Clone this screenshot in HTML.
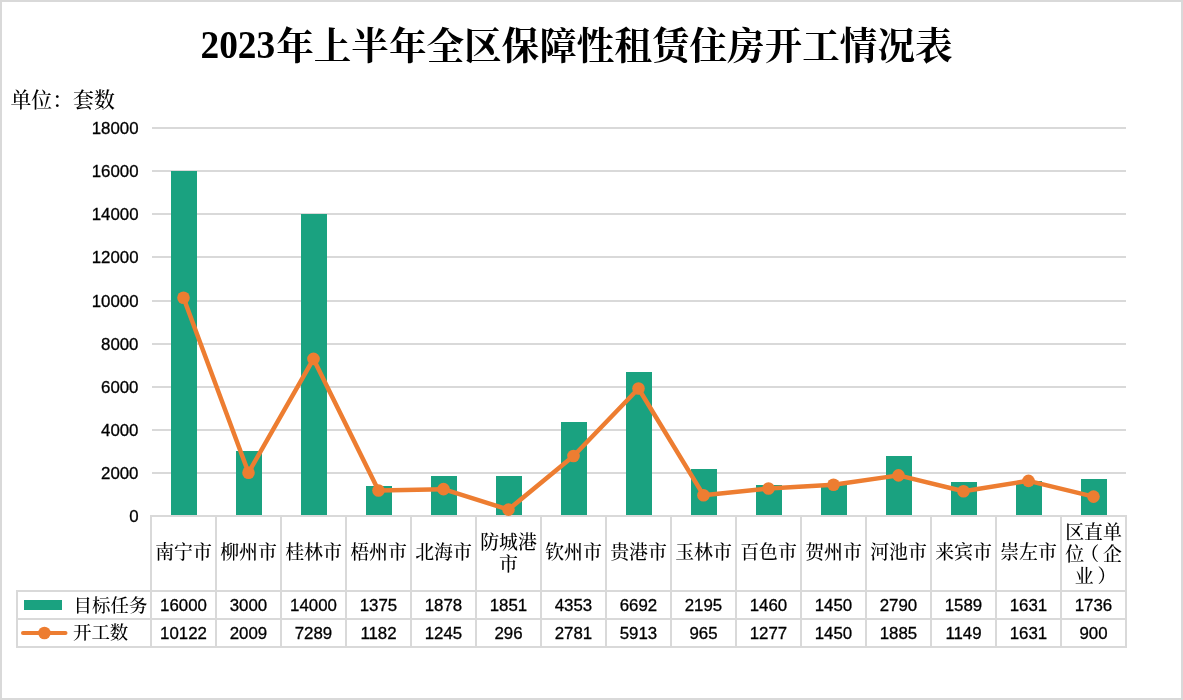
<!DOCTYPE html>
<html lang="zh-CN">
<head>
<meta charset="utf-8">
<title>2023年上半年全区保障性租赁住房开工情况表</title>
<style>
html,body{margin:0;padding:0;background:#fff;}
body{width:1183px;height:700px;overflow:hidden;position:relative;}
svg{position:absolute;left:0;top:0;display:block;}
.num{font-family:"Liberation Sans",sans-serif;font-size:16.85px;fill:#000;stroke:#000;stroke-width:0.3px;}
.cjk{font-family:"Liberation Serif","Noto Serif CJK SC",serif;font-size:18.9px;fill:#000;font-weight:500;}
.unit{font-family:"Liberation Serif","Noto Serif CJK SC",serif;font-size:20.9px;fill:#000;font-weight:500;}
.title{font-family:"Liberation Serif","Noto Serif CJK SC",serif;font-weight:700;font-size:37.6px;fill:#000;}
</style>
</head>
<body>
<svg width="1183" height="700" viewBox="0 0 1183 700">
<rect x="1" y="1" width="1181" height="698" fill="#fff" stroke="#d9d9d9" stroke-width="2"/>
<text class="title" transform="translate(200.5,57.7) scale(0.93,1)" style="font-size:40.2px">2023</text>
<text class="title" x="276.2" y="58.6">年上半年全区保障性租赁住房开工情况表</text>
<text class="unit" x="10.4" y="107.3">单位：套数</text>
<g fill="#d9d9d9">
<rect x="152" y="472" width="974" height="2"/>
<rect x="152" y="429" width="974" height="2"/>
<rect x="152" y="386" width="974" height="2"/>
<rect x="152" y="343" width="974" height="2"/>
<rect x="152" y="300" width="974" height="2"/>
<rect x="152" y="256" width="974" height="2"/>
<rect x="152" y="213" width="974" height="2"/>
<rect x="152" y="170" width="974" height="2"/>
<rect x="152" y="127" width="974" height="2"/>
</g>
<text class="num" x="138.5" y="522.10" text-anchor="end">0</text>
<text class="num" x="138.5" y="479.10" text-anchor="end">2000</text>
<text class="num" x="138.5" y="436.10" text-anchor="end">4000</text>
<text class="num" x="138.5" y="393.10" text-anchor="end">6000</text>
<text class="num" x="138.5" y="350.10" text-anchor="end">8000</text>
<text class="num" x="138.5" y="307.10" text-anchor="end">10000</text>
<text class="num" x="138.5" y="263.10" text-anchor="end">12000</text>
<text class="num" x="138.5" y="220.10" text-anchor="end">14000</text>
<text class="num" x="138.5" y="177.10" text-anchor="end">16000</text>
<text class="num" x="138.5" y="134.10" text-anchor="end">18000</text>
<rect x="171" y="171" width="26" height="344" fill="#1aa280"/>
<rect x="236" y="451" width="26" height="64" fill="#1aa280"/>
<rect x="301" y="214" width="26" height="301" fill="#1aa280"/>
<rect x="366" y="486" width="26" height="29" fill="#1aa280"/>
<rect x="431" y="476" width="26" height="39" fill="#1aa280"/>
<rect x="496" y="476" width="26" height="39" fill="#1aa280"/>
<rect x="561" y="422" width="26" height="93" fill="#1aa280"/>
<rect x="626" y="372" width="26" height="143" fill="#1aa280"/>
<rect x="691" y="469" width="26" height="46" fill="#1aa280"/>
<rect x="756" y="485" width="26" height="30" fill="#1aa280"/>
<rect x="821" y="485" width="26" height="30" fill="#1aa280"/>
<rect x="886" y="456" width="26" height="59" fill="#1aa280"/>
<rect x="951" y="482" width="26" height="33" fill="#1aa280"/>
<rect x="1016" y="481" width="26" height="34" fill="#1aa280"/>
<rect x="1081" y="479" width="26" height="36" fill="#1aa280"/>
<g fill="#d9d9d9">
<rect x="150" y="515" width="977" height="2"/>
<rect x="16" y="590" width="1111" height="2"/>
<rect x="16" y="618" width="1111" height="2"/>
<rect x="16" y="646" width="1111" height="2"/>
<rect x="16" y="590" width="2" height="58"/>
<rect x="150" y="515" width="2" height="133"/>
<rect x="215" y="515" width="2" height="133"/>
<rect x="280" y="515" width="2" height="133"/>
<rect x="345" y="515" width="2" height="133"/>
<rect x="410" y="515" width="2" height="133"/>
<rect x="475" y="515" width="2" height="133"/>
<rect x="540" y="515" width="2" height="133"/>
<rect x="605" y="515" width="2" height="133"/>
<rect x="670" y="515" width="2" height="133"/>
<rect x="735" y="515" width="2" height="133"/>
<rect x="800" y="515" width="2" height="133"/>
<rect x="865" y="515" width="2" height="133"/>
<rect x="930" y="515" width="2" height="133"/>
<rect x="995" y="515" width="2" height="133"/>
<rect x="1060" y="515" width="2" height="133"/>
<rect x="1125" y="515" width="2" height="133"/>
</g>
<polyline points="183.5,297.81 248.5,472.69 313.5,358.88 378.5,490.52 443.5,489.16 508.5,509.62 573.5,456.05 638.5,388.54 703.5,495.20 768.5,488.47 833.5,484.74 898.5,475.37 963.5,491.23 1028.5,480.84 1093.5,496.60" fill="none" stroke="#ed7d31" stroke-width="4.5" stroke-linejoin="round" stroke-linecap="round"/>
<circle cx="183.5" cy="297.81" r="6.3" fill="#ed7d31"/>
<circle cx="248.5" cy="472.69" r="6.3" fill="#ed7d31"/>
<circle cx="313.5" cy="358.88" r="6.3" fill="#ed7d31"/>
<circle cx="378.5" cy="490.52" r="6.3" fill="#ed7d31"/>
<circle cx="443.5" cy="489.16" r="6.3" fill="#ed7d31"/>
<circle cx="508.5" cy="509.62" r="6.3" fill="#ed7d31"/>
<circle cx="573.5" cy="456.05" r="6.3" fill="#ed7d31"/>
<circle cx="638.5" cy="388.54" r="6.3" fill="#ed7d31"/>
<circle cx="703.5" cy="495.20" r="6.3" fill="#ed7d31"/>
<circle cx="768.5" cy="488.47" r="6.3" fill="#ed7d31"/>
<circle cx="833.5" cy="484.74" r="6.3" fill="#ed7d31"/>
<circle cx="898.5" cy="475.37" r="6.3" fill="#ed7d31"/>
<circle cx="963.5" cy="491.23" r="6.3" fill="#ed7d31"/>
<circle cx="1028.5" cy="480.84" r="6.3" fill="#ed7d31"/>
<circle cx="1093.5" cy="496.60" r="6.3" fill="#ed7d31"/>
<text class="cjk" x="183.5" y="559.10" text-anchor="middle">南宁市</text>
<text class="cjk" x="248.5" y="559.10" text-anchor="middle">柳州市</text>
<text class="cjk" x="313.5" y="559.10" text-anchor="middle">桂林市</text>
<text class="cjk" x="378.5" y="559.10" text-anchor="middle">梧州市</text>
<text class="cjk" x="443.5" y="559.10" text-anchor="middle">北海市</text>
<text class="cjk" x="508.5" y="548.85" text-anchor="middle">防城港</text>
<text class="cjk" x="508.5" y="571.15" text-anchor="middle">市</text>
<text class="cjk" x="573.5" y="559.10" text-anchor="middle">钦州市</text>
<text class="cjk" x="638.5" y="559.10" text-anchor="middle">贵港市</text>
<text class="cjk" x="703.5" y="559.10" text-anchor="middle">玉林市</text>
<text class="cjk" x="768.5" y="559.10" text-anchor="middle">百色市</text>
<text class="cjk" x="833.5" y="559.10" text-anchor="middle">贺州市</text>
<text class="cjk" x="898.5" y="559.10" text-anchor="middle">河池市</text>
<text class="cjk" x="963.5" y="559.10" text-anchor="middle">来宾市</text>
<text class="cjk" x="1028.5" y="559.10" text-anchor="middle">崇左市</text>
<text class="cjk" x="1093.5" y="538.60" text-anchor="middle">区直单</text>
<text class="cjk" x="1093.5" y="560.90" text-anchor="middle">位<tspan dx="-3.8">（</tspan><tspan dx="3.8">企</tspan></text>
<text class="cjk" x="1095.5" y="583.20" text-anchor="middle">业<tspan dx="3.9">）</tspan></text>
<text class="num" x="183.5" y="611.00" text-anchor="middle">16000</text>
<text class="num" x="183.5" y="638.50" text-anchor="middle">10122</text>
<text class="num" x="248.5" y="611.00" text-anchor="middle">3000</text>
<text class="num" x="248.5" y="638.50" text-anchor="middle">2009</text>
<text class="num" x="313.5" y="611.00" text-anchor="middle">14000</text>
<text class="num" x="313.5" y="638.50" text-anchor="middle">7289</text>
<text class="num" x="378.5" y="611.00" text-anchor="middle">1375</text>
<text class="num" x="378.5" y="638.50" text-anchor="middle">1182</text>
<text class="num" x="443.5" y="611.00" text-anchor="middle">1878</text>
<text class="num" x="443.5" y="638.50" text-anchor="middle">1245</text>
<text class="num" x="508.5" y="611.00" text-anchor="middle">1851</text>
<text class="num" x="508.5" y="638.50" text-anchor="middle">296</text>
<text class="num" x="573.5" y="611.00" text-anchor="middle">4353</text>
<text class="num" x="573.5" y="638.50" text-anchor="middle">2781</text>
<text class="num" x="638.5" y="611.00" text-anchor="middle">6692</text>
<text class="num" x="638.5" y="638.50" text-anchor="middle">5913</text>
<text class="num" x="703.5" y="611.00" text-anchor="middle">2195</text>
<text class="num" x="703.5" y="638.50" text-anchor="middle">965</text>
<text class="num" x="768.5" y="611.00" text-anchor="middle">1460</text>
<text class="num" x="768.5" y="638.50" text-anchor="middle">1277</text>
<text class="num" x="833.5" y="611.00" text-anchor="middle">1450</text>
<text class="num" x="833.5" y="638.50" text-anchor="middle">1450</text>
<text class="num" x="898.5" y="611.00" text-anchor="middle">2790</text>
<text class="num" x="898.5" y="638.50" text-anchor="middle">1885</text>
<text class="num" x="963.5" y="611.00" text-anchor="middle">1589</text>
<text class="num" x="963.5" y="638.50" text-anchor="middle">1149</text>
<text class="num" x="1028.5" y="611.00" text-anchor="middle">1631</text>
<text class="num" x="1028.5" y="638.50" text-anchor="middle">1631</text>
<text class="num" x="1093.5" y="611.00" text-anchor="middle">1736</text>
<text class="num" x="1093.5" y="638.50" text-anchor="middle">900</text>
<rect x="24" y="600" width="38" height="10" fill="#1aa280"/>
<text class="cjk" style="font-size:18.45px" x="73.6" y="611.7">目标任务</text>
<line x1="23" y1="633.1" x2="65.5" y2="633.1" stroke="#ed7d31" stroke-width="4" stroke-linecap="round"/>
<circle cx="44.4" cy="633" r="6.3" fill="#ed7d31"/>
<text class="cjk" style="font-size:18.45px" x="73.0" y="638.5">开工数</text>
</svg>
</body>
</html>
